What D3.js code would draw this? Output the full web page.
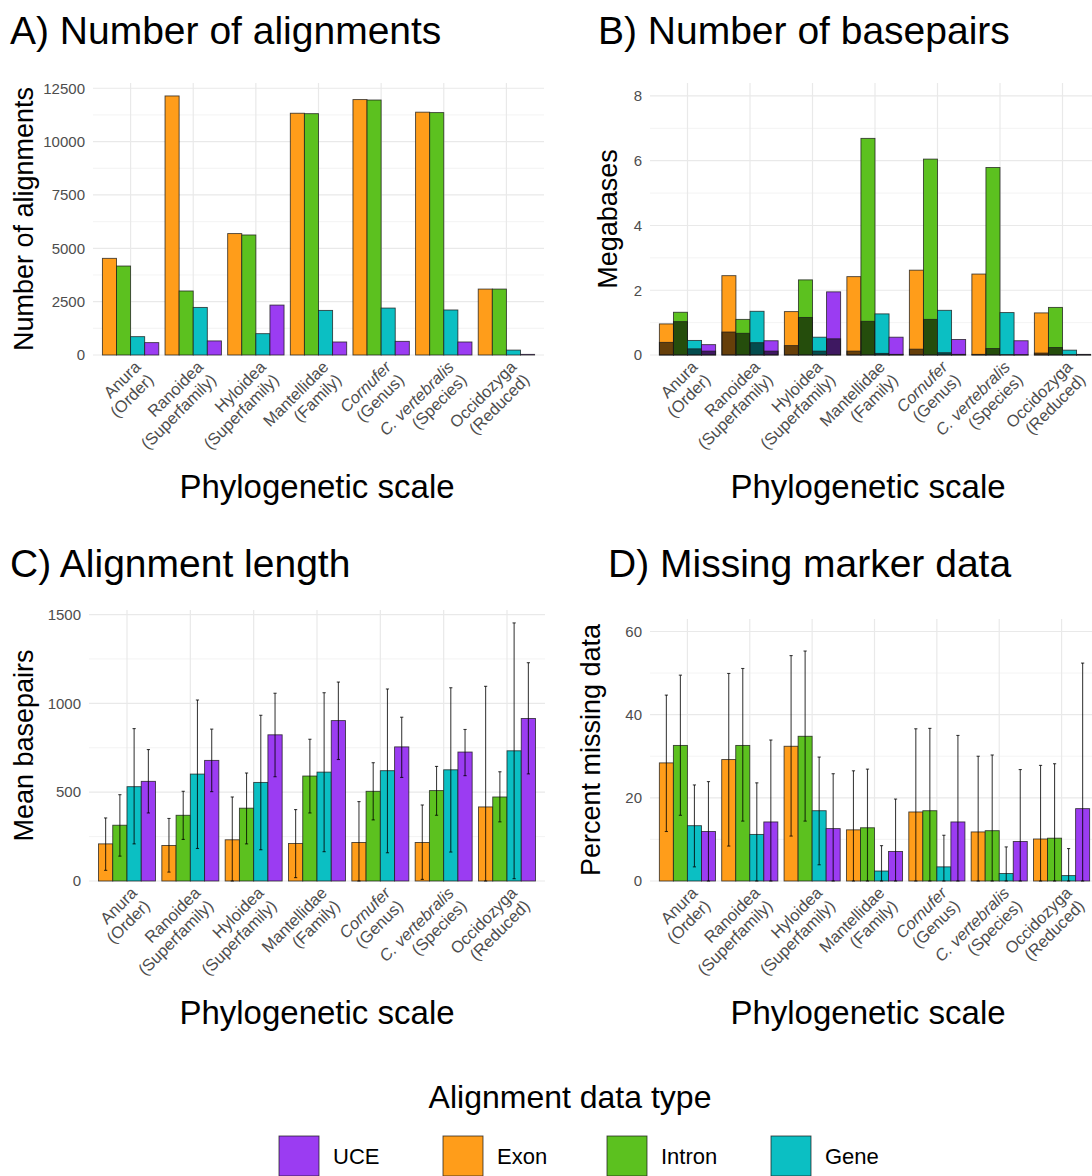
<!DOCTYPE html>
<html>
<head>
<meta charset="utf-8">
<script src="https://cdn.jsdelivr.net/npm/d3@7"></script>
<style>
  body { margin: 0; background: #fff; overflow: hidden; }
  svg { display: block; font-family: "Liberation Sans", Arial, Helvetica, sans-serif; }
</style>
</head>
<body>
<svg id="chart" width="1092" height="1176"></svg>
<script>
// phylogenetic scales on the x axis
const taxa = ['Anura', 'Ranoidea', 'Hyloidea', 'Mantellidae', 'Cornufer', 'C. vertebralis', 'Occidozyga']
const ranks = ['(Order)', '(Superfamily)', '(Superfamily)', '(Family)', '(Genus)', '(Species)', '(Reduced)']
const italicTaxa = ['Cornufer', 'C. vertebralis']

// data types, in dodge order and in legend order
const types = ['Exon', 'Intron', 'Gene', 'UCE']
const legendTypes = ['UCE', 'Exon', 'Intron', 'Gene']
const typeColors = ['#ff9d1a', '#5cc11f', '#0bbfc3', '#9b3cf2']

// A) number of alignments
const alignExon = [4530, 12140, 5690, 11330, 11970, 11380, 3090]
const alignIntron = [4170, 3000, 5625, 11310, 11950, 11360, 3090]
const alignGene = [860, 2230, 1000, 2090, 2200, 2110, 230]
const alignUce = [580, 660, 2340, 610, 640, 610, 30]
const alignTicks = [0, 2500, 5000, 7500, 10000, 12500]

// B) megabases, total and the darker part
const mbExon = [0.96, 2.45, 1.34, 2.42, 2.62, 2.50, 1.30]
const mbIntron = [1.32, 1.10, 2.32, 6.69, 6.05, 5.79, 1.47]
const mbGene = [0.45, 1.35, 0.55, 1.27, 1.38, 1.31, 0.15]
const mbUce = [0.32, 0.44, 1.95, 0.55, 0.48, 0.44, 0.02]
const mbExonDark = [0.39, 0.71, 0.29, 0.12, 0.18, 0.02, 0.06]
const mbIntronDark = [1.03, 0.67, 1.16, 1.04, 1.10, 0.20, 0.23]
const mbGeneDark = [0.19, 0.38, 0.12, 0.05, 0.07, 0.01, 0.01]
const mbUceDark = [0.12, 0.12, 0.50, 0.02, 0.02, 0.01, 0.01]
const mbTicks = [0, 2, 4, 6, 8]

// C) mean alignment length with error bars
const lenExon = [209, 200, 232, 211, 217, 217, 417]
const lenExonLo = [60, 50, 0, 19, 0, 9, 0]
const lenExonHi = [355, 352, 473, 402, 447, 428, 1096]
const lenIntron = [314, 370, 410, 591, 505, 509, 473]
const lenIntronLo = [140, 234, 209, 383, 344, 370, 333]
const lenIntronHi = [486, 505, 608, 798, 666, 645, 615]
const lenGene = [531, 602, 555, 613, 621, 626, 733]
const lenGeneLo = [209, 183, 176, 165, 159, 163, 13]
const lenGeneHi = [858, 1019, 933, 1060, 1081, 1088, 1453]
const lenUce = [561, 679, 823, 903, 755, 726, 915]
const lenUceLo = [383, 503, 587, 684, 583, 593, 603]
const lenUceHi = [740, 855, 1057, 1120, 922, 853, 1229]
const lenTicks = [0, 500, 1000, 1500]

// D) percent missing data with error bars
const missExon = [28.4, 29.2, 32.4, 12.3, 16.6, 11.8, 10.1]
const missExonLo = [11.9, 8.4, 10.8, 0, 0, 0, 0]
const missExonHi = [44.7, 49.9, 54.2, 26.5, 36.6, 30.0, 27.8]
const missIntron = [32.6, 32.6, 34.8, 12.8, 16.9, 12.1, 10.3]
const missIntronLo = [15.8, 14.4, 14.4, 0, 0, 0, 0]
const missIntronHi = [49.5, 51.1, 55.3, 26.9, 36.7, 30.3, 28.2]
const missGene = [13.3, 11.2, 16.9, 2.4, 3.4, 1.8, 1.3]
const missGeneLo = [3.4, 0, 3.9, 0, 0, 0, 0]
const missGeneHi = [23.1, 23.6, 29.8, 8.5, 11.0, 8.2, 7.8]
const missUce = [11.9, 14.2, 12.6, 7.1, 14.2, 9.5, 17.4]
const missUceLo = [0, 0, 0, 0, 0, 0, 0]
const missUceHi = [23.9, 33.9, 25.8, 19.7, 35.0, 26.8, 52.4]
const missTicks = [0, 20, 40, 60]

const svg = d3.select('#chart')
const color = d3.scaleOrdinal().domain(types).range(typeColors)

const translate = (x, y) => 'translate(' + x + ',' + y + ')'

function drawPanel (p) {
  const g = svg.append('g')
  const x = d3.scaleBand().domain(taxa).range([p.left, p.right]).paddingInner(0).paddingOuter(0.1)
  const step = x.step()
  const xs = d3.scaleBand().domain(types).range([0, step * 0.9])
  const bw = xs.bandwidth()
  const y = d3.scaleLinear().domain(p.domain).range([p.bottom, p.top]).clamp(true)
  const barX = (t, k) => x(t) + step * 0.05 + xs(k)

  // minor grid (midpoints of the major ticks)
  const minor = []
  for (let i = 0; i < p.ticks.length; i++) {
    const dt = p.ticks[1] - p.ticks[0]
    const m = p.ticks[i] + dt / 2
    if (m < p.domain[1]) minor.push(m)
  }
  g.append('g').selectAll('line').data(minor).join('line')
    .attr('x1', p.left).attr('x2', p.right)
    .attr('y1', d => y(d)).attr('y2', d => y(d))
    .attr('stroke', '#f0f0f0').attr('stroke-width', 0.8)
  g.append('g').selectAll('line').data(p.ticks).join('line')
    .attr('x1', p.left).attr('x2', p.right)
    .attr('y1', d => y(d)).attr('y2', d => y(d))
    .attr('stroke', '#e9e9e9').attr('stroke-width', 1.2)
  g.append('g').selectAll('line').data(taxa).join('line')
    .attr('x1', d => x(d) + step / 2).attr('x2', d => x(d) + step / 2)
    .attr('y1', p.top).attr('y2', p.bottom)
    .attr('stroke', '#e9e9e9').attr('stroke-width', 1.2)

  // bars
  types.forEach((k, j) => {
    const vals = p.values[j]
    g.append('g').selectAll('rect').data(taxa).join('rect')
      .attr('x', t => barX(t, k))
      .attr('width', bw)
      .attr('y', (t, i) => y(vals[i]))
      .attr('height', (t, i) => p.bottom - y(vals[i]))
      .attr('fill', color(k))
      .attr('stroke', '#1a1a1a').attr('stroke-opacity', 0.8).attr('stroke-width', 0.9)
    if (p.dark) {
      const dv = p.dark[j]
      g.append('g').selectAll('rect').data(taxa).join('rect')
        .attr('x', t => barX(t, k))
        .attr('width', bw)
        .attr('y', (t, i) => y(dv[i]))
        .attr('height', (t, i) => p.bottom - y(dv[i]))
        .attr('fill', '#000').attr('fill-opacity', 0.6)
        .attr('stroke', '#1a1a1a').attr('stroke-opacity', 0.8).attr('stroke-width', 0.9)
    }
  })

  // error bars
  if (p.lo) {
    types.forEach((k, j) => {
      const lo = p.lo[j]
      const hi = p.hi[j]
      const eg = g.append('g').attr('stroke', '#000').attr('stroke-opacity', 0.75).attr('stroke-width', 1.1)
      taxa.forEach((t, i) => {
        const cx = barX(t, k) + bw / 2
        eg.append('line').attr('x1', cx).attr('x2', cx).attr('y1', y(lo[i])).attr('y2', y(hi[i]))
        eg.append('line').attr('x1', cx - 1.6).attr('x2', cx + 1.6).attr('y1', y(hi[i])).attr('y2', y(hi[i]))
        eg.append('line').attr('x1', cx - 1.6).attr('x2', cx + 1.6).attr('y1', y(lo[i])).attr('y2', y(lo[i]))
      })
    })
  }

  // y axis labels
  const yAxis = g.append('g').attr('transform', translate(p.left, 0))
    .call(d3.axisLeft(y).tickValues(p.ticks).tickFormat(d3.format('d')).tickSize(0).tickPadding(8))
  yAxis.select('.domain').remove()
  yAxis.selectAll('text')
    .attr('font-family', '"Liberation Sans", Arial, Helvetica, sans-serif')
    .attr('font-size', 15).attr('fill', '#4d4d4d')

  // x axis labels, two lines at 45 degrees
  const xl = g.append('g')
  taxa.forEach((t, i) => {
    const tx = xl.append('text')
      .attr('transform', translate(x(t) + step / 2 + 2, p.bottom + 4) + ' rotate(-45)')
      .attr('text-anchor', 'end')
      .attr('font-size', 16.5).attr('fill', '#4d4d4d')
    tx.append('tspan').attr('x', 0).attr('dy', '0.78em')
      .attr('font-style', italicTaxa.includes(t) ? 'italic' : 'normal')
      .text(t)
    tx.append('tspan').attr('x', 0).attr('dy', '1.1em').text(ranks[i])
  })

  // titles
  g.append('text').attr('x', p.titleX).attr('y', p.titleY)
    .attr('font-size', 39).attr('fill', '#000').text(p.title)
  g.append('text').attr('x', p.xTitleX).attr('y', p.bottom + 143)
    .attr('text-anchor', 'middle').attr('font-size', 33).attr('fill', '#000')
    .text('Phylogenetic scale')
  g.append('text')
    .attr('transform', translate(p.yTitleX, (p.top + p.bottom) / 2) + ' rotate(-90)')
    .attr('text-anchor', 'middle').attr('font-size', 27).attr('fill', '#000')
    .text(p.yTitle)
}

drawPanel({
  title: 'A) Number of alignments', titleX: 10, titleY: 44,
  left: 93, right: 544, top: 83, bottom: 355,
  domain: [0, d3.max([alignExon, alignIntron, alignGene, alignUce].flat()) * 1.05],
  ticks: alignTicks,
  values: [alignExon, alignIntron, alignGene, alignUce],
  yTitle: 'Number of alignments', yTitleX: 33, xTitleX: 317
})

drawPanel({
  title: 'B) Number of basepairs', titleX: 598, titleY: 44,
  left: 650, right: 1100, top: 83, bottom: 355,
  domain: [0, 8.4],
  ticks: mbTicks,
  values: [mbExon, mbIntron, mbGene, mbUce],
  dark: [mbExonDark, mbIntronDark, mbGeneDark, mbUceDark],
  yTitle: 'Megabases', yTitleX: 617, xTitleX: 868
})

drawPanel({
  title: 'C) Alignment length', titleX: 10, titleY: 577,
  left: 89, right: 545, top: 610, bottom: 881,
  domain: [0, d3.max([lenExonHi, lenIntronHi, lenGeneHi, lenUceHi].flat()) * 1.05],
  ticks: lenTicks,
  values: [lenExon, lenIntron, lenGene, lenUce],
  lo: [lenExonLo, lenIntronLo, lenGeneLo, lenUceLo],
  hi: [lenExonHi, lenIntronHi, lenGeneHi, lenUceHi],
  yTitle: 'Mean basepairs', yTitleX: 33, xTitleX: 317
})

drawPanel({
  title: 'D) Missing marker data', titleX: 608, titleY: 577,
  left: 650, right: 1099, top: 619, bottom: 881,
  domain: [0, 63],
  ticks: missTicks,
  values: [missExon, missIntron, missGene, missUce],
  lo: [missExonLo, missIntronLo, missGeneLo, missUceLo],
  hi: [missExonHi, missIntronHi, missGeneHi, missUceHi],
  yTitle: 'Percent missing data', yTitleX: 600, xTitleX: 868
})

// legend
const legend = svg.append('g')
legend.append('text').attr('x', 570).attr('y', 1108)
  .attr('text-anchor', 'middle').attr('font-size', 32).attr('fill', '#000')
  .text('Alignment data type')
const lx = d3.scalePoint().domain(legendTypes).range([279, 771])
const item = legend.selectAll('g.item').data(legendTypes).join('g')
  .attr('class', 'item')
  .attr('transform', d => translate(lx(d), 1136))
item.append('rect').attr('width', 40).attr('height', 40)
  .attr('fill', d => color(d))
  .attr('stroke', '#1a1a1a').attr('stroke-opacity', 0.8).attr('stroke-width', 0.9)
item.append('text').attr('x', 54).attr('y', 28)
  .attr('font-size', 22).attr('fill', '#000')
  .text(d => d)
</script>
</body>
</html>
